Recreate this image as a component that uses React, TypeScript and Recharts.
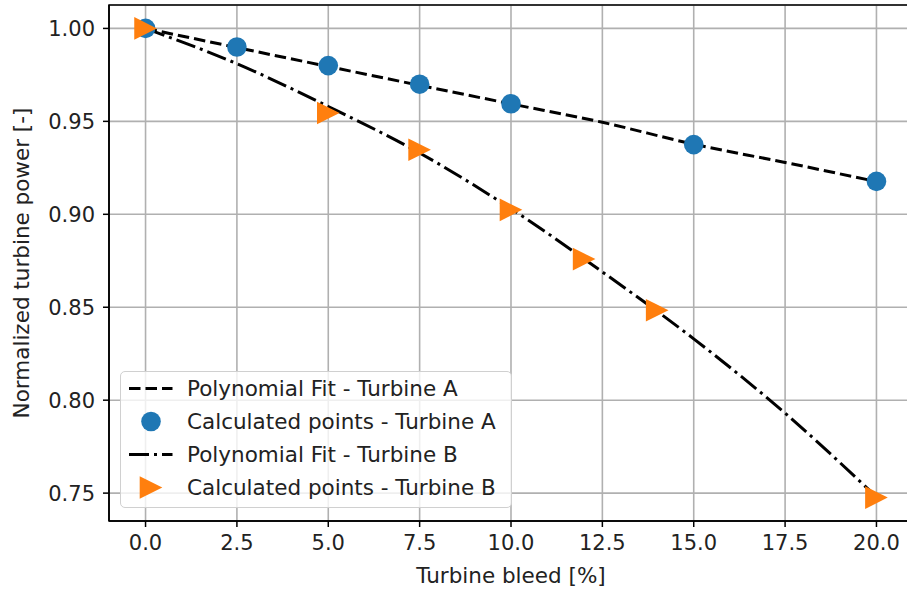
import React from "react";
import {
  ComposedChart,
  Line,
  Scatter,
  XAxis,
  YAxis,
  CartesianGrid,
  Legend,
  ReferenceArea,
} from "recharts";

// Calculated points
const bleedA = [0, 2.5, 5, 7.5, 10, 15, 20];
const powerA = [1.0, 0.99, 0.98, 0.97, 0.9595, 0.9375, 0.9177];
const bleedB = [0, 5, 7.5, 10, 12, 14, 20];
const powerB = [1.0, 0.9545, 0.9347, 0.9024, 0.8759, 0.8484, 0.7476];

// Polynomial fit curves
const fitX = [0, 2.5, 5, 7.5, 10, 12.5, 15, 17.5, 20];
const fitA = [1.0, 0.9897, 0.9795, 0.9694, 0.9594, 0.9495, 0.9377, 0.9279, 0.9176];
const fitB = [1.0, 0.981, 0.958, 0.933, 0.903, 0.869, 0.833, 0.793, 0.748];

const xTicks = [0, 2.5, 5, 7.5, 10, 12.5, 15, 17.5, 20];
const yTicks = [0.75, 0.8, 0.85, 0.9, 0.95, 1.0];

const FONT = "'DejaVu Sans', sans-serif";
const BLUE = "#1f77b4";
const ORANGE = "#ff7f0e";
const DASHED = "11.5 5";
const DASHDOT = "20 5 3 5";

const toPoints = (xs: number[], ys: number[]) => xs.map((x, i) => ({ x, y: ys[i] }));

const Circle = (props: any) => <circle cx={props.cx} cy={props.cy} r={9.8} fill={BLUE} />;

const Triangle = (props: any) => {
  const { cx, cy } = props;
  const s = 11.3;
  return <polygon points={`${cx + s},${cy} ${cx - s},${cy - s} ${cx - s},${cy + s}`} fill={ORANGE} />;
};

const YLabel = (props: any) => {
  const vb = props.viewBox || {};
  const cy = vb.y + vb.height / 2;
  return (
    <text
      x={21}
      y={cy}
      transform={`rotate(-90 21 ${cy})`}
      textAnchor="middle"
      dominantBaseline="central"
      fontFamily={FONT}
      fontSize={21.5}
      fill="#222"
    >
      Normalized turbine power [-]
    </text>
  );
};

const XLabel = (props: any) => {
  const vb = props.viewBox || {};
  return (
    <text
      x={vb.x + vb.width / 2}
      y={575}
      textAnchor="middle"
      dominantBaseline="central"
      fontFamily={FONT}
      fontSize={21.5}
      fill="#222"
    >
      Turbine bleed [%]
    </text>
  );
};

const legendRows = [
  { name: "Polynomial Fit - Turbine A", kind: "line", dash: DASHED },
  { name: "Calculated points - Turbine A", kind: "circle" },
  { name: "Polynomial Fit - Turbine B", kind: "line", dash: DASHDOT },
  { name: "Calculated points - Turbine B", kind: "triangle" },
];

const renderLegend = () => (
  <div
    style={{
      boxSizing: "border-box",
      width: 392,
      height: 137,
      border: "1.5px solid #d0d0d0",
      borderRadius: 5,
      background: "rgba(255,255,255,0.8)",
      fontFamily: FONT,
      fontSize: 21.5,
      color: "#222",
    }}
  >
    {legendRows.map((row) => (
      <div key={row.name} style={{ display: "flex", alignItems: "center", height: 33 }}>
        <svg width={66} height={33} style={{ flex: "none" }}>
          {row.kind === "line" && (
            <line x1={8} x2={51.5} y1={16.5} y2={16.5} stroke="#000" strokeWidth={3} strokeDasharray={row.dash} />
          )}
          {row.kind === "circle" && <circle cx={30} cy={16.5} r={9.8} fill={BLUE} />}
          {row.kind === "triangle" && <polygon points="41.3,16.5 18.7,5.2 18.7,27.8" fill={ORANGE} />}
        </svg>
        <span style={{ whiteSpace: "nowrap" }}>{row.name}</span>
      </div>
    ))}
  </div>
);

export default function App() {
  const tickStyle = { fill: "#222", fontSize: 21, fontFamily: FONT };
  return (
    <div style={{ position: "absolute", left: 0, top: 0, width: 907, height: 590, overflow: "hidden", background: "#fff" }}>
      <ComposedChart width={913} height={590} margin={{ top: 5, right: 0, bottom: 0, left: 0 }}>
        <CartesianGrid stroke="#b0b0b0" strokeWidth={1.6} />
        <XAxis
          type="number"
          dataKey="x"
          domain={[-1, 21]}
          allowDataOverflow
          ticks={xTicks}
          tickFormatter={(v: number) => v.toFixed(1)}
          tickSize={6}
          tickMargin={8}
          height={69}
          axisLine={{ stroke: "#000", strokeWidth: 1.5 }}
          tickLine={{ stroke: "#000", strokeWidth: 1.5 }}
          tick={tickStyle}
          label={<XLabel />}
        />
        <YAxis
          type="number"
          dataKey="y"
          domain={[0.735, 1.0126]}
          allowDataOverflow
          ticks={yTicks}
          tickFormatter={(v: number) => v.toFixed(2)}
          tickSize={6}
          tickMargin={8}
          width={109}
          axisLine={{ stroke: "#000", strokeWidth: 1.5 }}
          tickLine={{ stroke: "#000", strokeWidth: 1.5 }}
          tick={tickStyle}
          label={<YLabel />}
        />
        <ReferenceArea x1={-1} x2={21} y1={0.735} y2={1.0126} fill="none" stroke="#000" strokeWidth={1.5} ifOverflow="visible" />
        <Line
          data={toPoints(fitX, fitA)}
          dataKey="y"
          type="monotone"
          stroke="#000"
          strokeWidth={3}
          strokeDasharray={DASHED}
          dot={false}
          activeDot={false}
          isAnimationActive={false}
        />
        <Line
          data={toPoints(fitX, fitB)}
          dataKey="y"
          type="monotone"
          stroke="#000"
          strokeWidth={3}
          strokeDasharray={DASHDOT}
          dot={false}
          activeDot={false}
          isAnimationActive={false}
        />
        <Scatter data={toPoints(bleedA, powerA)} dataKey="y" shape={Circle} isAnimationActive={false} />
        <Scatter data={toPoints(bleedB, powerB)} dataKey="y" shape={Triangle} isAnimationActive={false} />
        <Legend
          layout="horizontal"
          verticalAlign="middle"
          align="center"
          content={renderLegend}
          wrapperStyle={{ left: 120, top: 371, width: 392, height: 137 }}
        />
      </ComposedChart>
    </div>
  );
}
